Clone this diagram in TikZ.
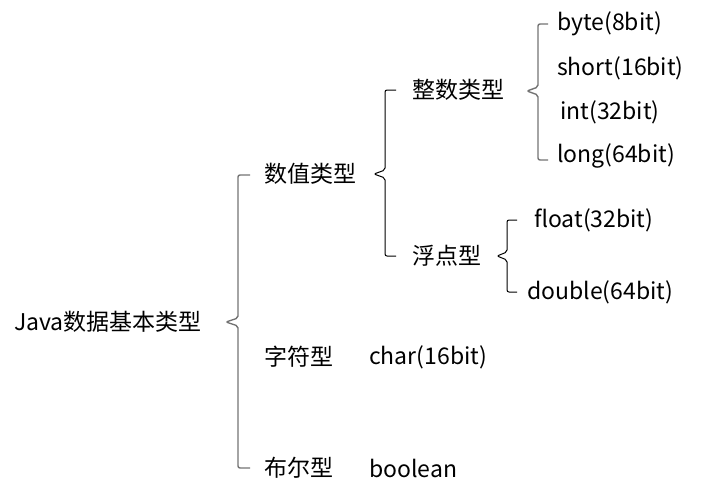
\documentclass[tikz,border=0pt]{standalone}
\usepackage{fontspec}
\setmainfont{Noto Sans CJK SC}
\begin{document}
\begin{tikzpicture}[x=1pt,y=-1pt,
  lbl/.style={anchor=west,inner sep=0pt,font=\fontsize{23}{25}\selectfont},
  gbrace/.style={draw=black!55,line width=1.4pt,rounded corners=2pt},
  kbrace/.style={draw=black,line width=1pt,rounded corners=2pt}]
\useasboundingbox (0,0) rectangle (706,498);
% labels
\node[lbl] (root) at (14,322) {Java数据基本类型};
\node[lbl] (num) at (264,174) {数值类型};
\node[lbl] (int) at (412,90) {整数类型};
\node[lbl] (flt) at (412,256) {浮点型};
\node[lbl] (byte) at (557,24) {byte(8bit)};
\node[lbl] (short) at (557,68) {short(16bit)};
\node[lbl] (i32) at (560,112) {int(32bit)};
\node[lbl] (long) at (557,156) {long(64bit)};
\node[lbl] (float) at (534,220) {float(32bit)};
\node[lbl] (double) at (527,292) {double(64bit)};
\node[lbl] (chr) at (264,357) {字符型};
\node[lbl] (charv) at (369,357) {char(16bit)};
\node[lbl] (bool) at (264,468) {布尔型};
\node[lbl] (boolv) at (369,468) {boolean};
% braces
\coordinate (b1) at (226,322);
\coordinate (b2) at (374,174);
\coordinate (b3) at (527,91);
\coordinate (b4) at (497,256);
\draw[gbrace] (250,175) -- (238,175) -- (238,318) -- (b1) -- (238,326) -- (238,468) -- (250,468);
\draw[kbrace] (396,90) -- (385,90) -- (385,170) -- (b2) -- (385,178) -- (385,256) -- (396,256);
\draw[gbrace] (548,24) -- (538,24) -- (538,87) -- (b3) -- (538,95) -- (538,160) -- (548,160);
\draw[kbrace] (517,220) -- (507,220) -- (507,252) -- (b4) -- (507,260) -- (507,292) -- (517,292);
\end{tikzpicture}
\end{document}
